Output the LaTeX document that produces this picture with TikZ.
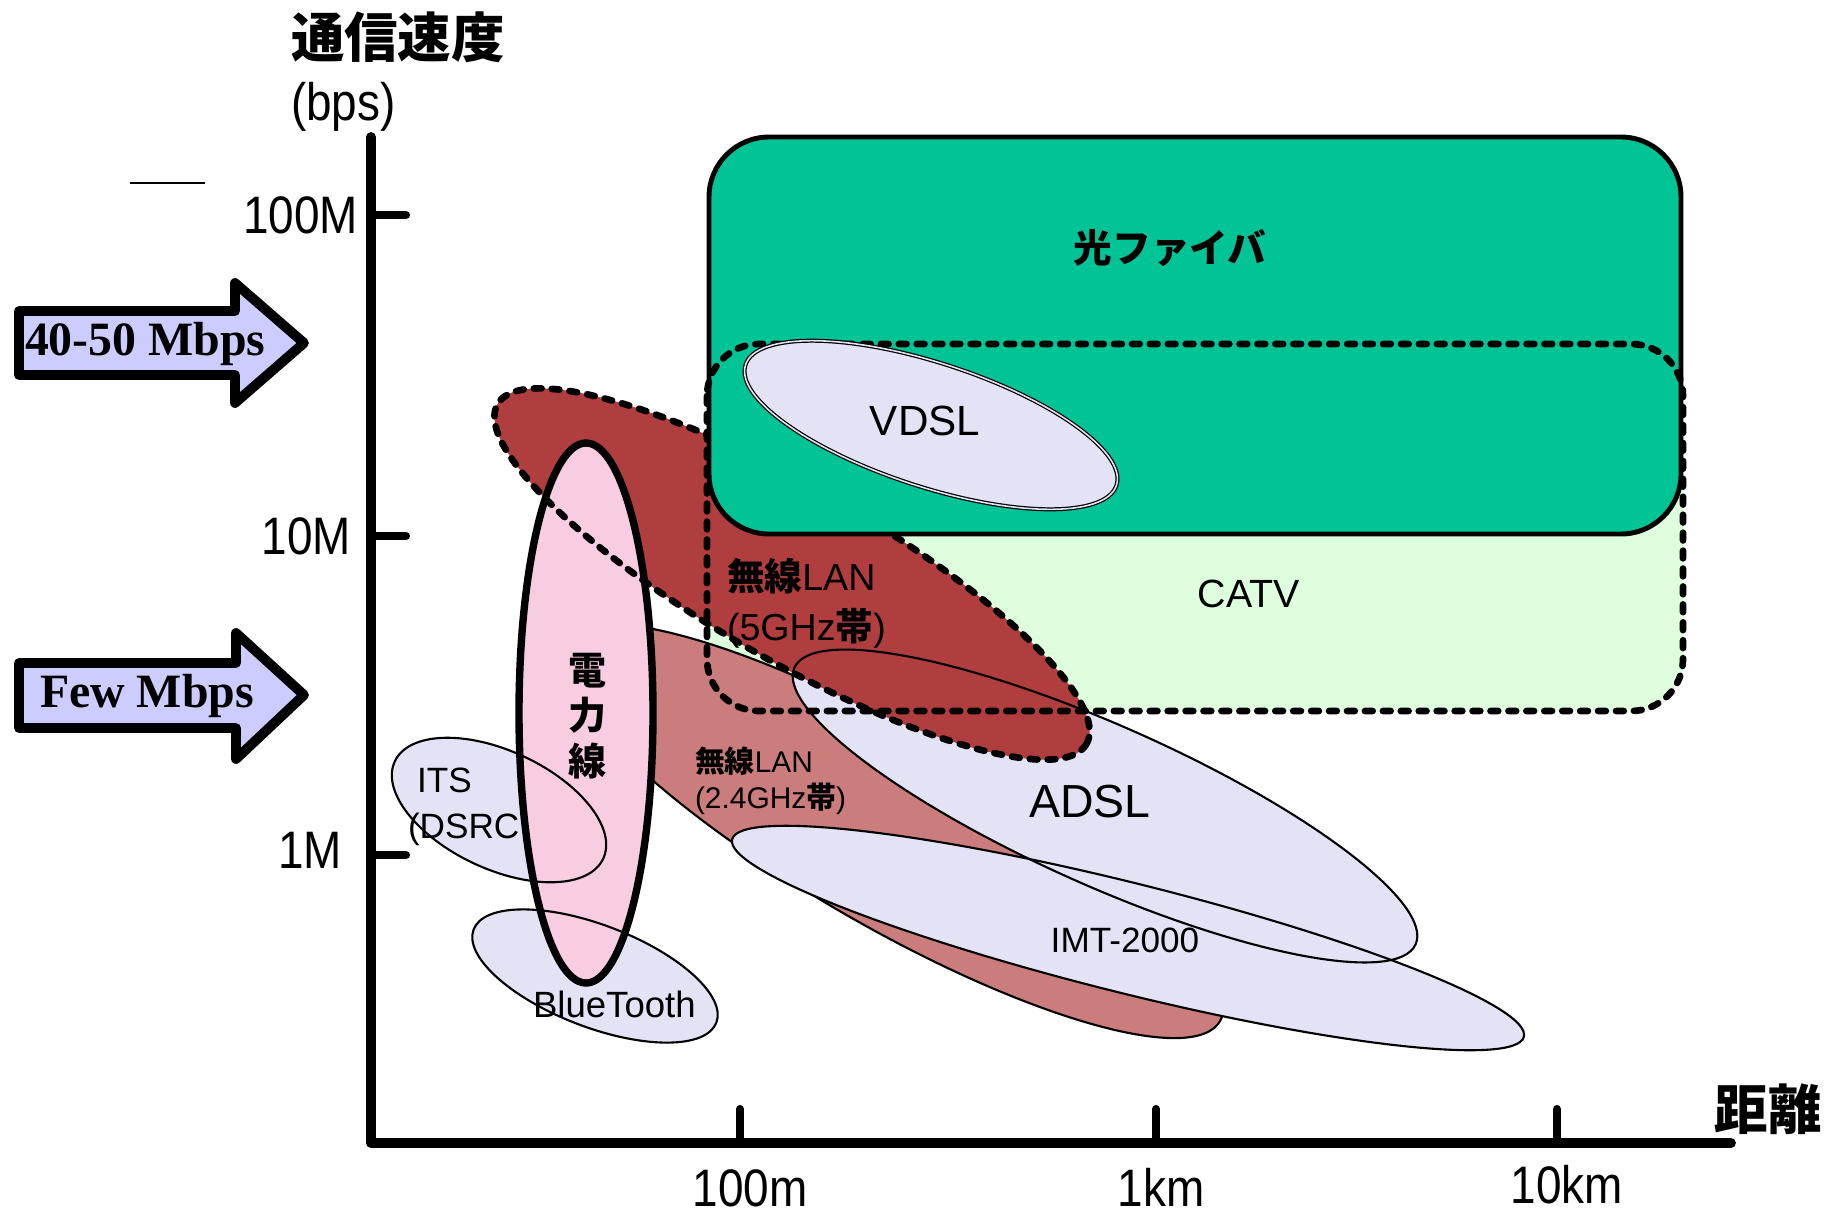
\documentclass[tikz,border=0pt]{standalone}
\usepackage{fontspec}
\setmainfont{Liberation Sans}
\newfontfamily\axf{Liberation Sans}[FakeStretch=0.87]
\newfontfamily\jpf{Noto Sans CJK JP}
\newfontfamily\serf{Liberation Serif}
\newcommand\jb{\jpf\bfseries}
\newcommand\fsz[1]{\fontsize{#1}{#1}\selectfont}
\definecolor{fib}{RGB}{0,196,150}
\definecolor{catv}{RGB}{222,255,222}
\definecolor{wlfive}{RGB}{176,62,62}
\definecolor{wltwo}{RGB}{203,124,124}
\definecolor{lav}{RGB}{227,227,245}
\definecolor{pinkf}{RGB}{249,205,225}
\definecolor{arrowf}{RGB}{204,204,255}
\tikzset{
  axisline/.style={line width=2.8pt, line cap=round, line join=round},
  tickline/.style={line width=2.3pt, line cap=round},
  thinout/.style={draw=black, line width=0.6pt},
  dashout/.style={draw=black, line width=1.9pt, line cap=round, dash pattern=on 2.2pt off 2.9pt},
  blockarrow/.style={draw=black, fill=arrowf, line width=2.8pt, line join=round},
  axlbl/.style={font=\axf\fsz{15}},
  geoadsl/.style={rotate around={-24:(1105,806)}},
  geoimt/.style={rotate around={-14:(1128,938)}},
  geotwo/.style={rotate around={-30:(891,831)}},
  geofive/.style={rotate around={-30:(792,574)}},
  geoits/.style={rotate around={-25:(499,810)}},
  geobt/.style={rotate around={-21:(595,976)}},
  geovdsl/.style={rotate around={-18:(931,425)}},
}
\begin{document}
\begin{tikzpicture}[x=0.01cm, y=-0.01cm, every node/.style={inner sep=0pt, outer sep=0pt}]
\useasboundingbox (0,0) rectangle (1834,1215);

% short line top left
\coordinate (sla) at (130,183);
\coordinate (slb) at (205,183);
\draw[line width=0.5pt] (sla) -- (slb);

% axes
\coordinate (ytop) at (371,137);
\coordinate (orig) at (371,1143);
\coordinate (xend) at (1731,1143);
\draw[axisline] (ytop) -- (orig) -- (xend);
\foreach \yy in {215,536,855} \draw[tickline] (371,\yy) -- (406,\yy);
\foreach \xx in {740,1156,1557} \draw[tickline] (\xx,1109) -- (\xx,1143);

\node[axlbl, anchor=base east] (l100M) at (358,233) {100M};
\node[axlbl, anchor=base east] (l10M) at (351,554) {10M};
\node[axlbl, anchor=base east] (l1M) at (342,868) {1M};
\node[axlbl, anchor=base] (l100m) at (750,1206) {100m};
\node[axlbl, anchor=base] (l1km) at (1161,1206) {1km};
\node[axlbl, anchor=base] (l10km) at (1567,1203) {10km};
\node[anchor=west, font=\jb\fsz{15.2}] (title) at (291,37) {通信速度};
\node[axlbl, anchor=base west] (bps) at (291,120) {(bps)};
\node[font=\jb\fsz{15.2}] (dist) at (1768,1109) {距離};

% block arrows
\draw[blockarrow] (19,311) -- (235,311) -- (235,283) -- (304,343) -- (235,403) -- (235,375) -- (19,375) -- cycle;
\node[anchor=base west, font=\serf\bfseries\fsz{13.6}] (arrA) at (25,355) {40-50 Mbps};
\draw[blockarrow] (19,663) -- (236,663) -- (236,633) -- (304,695) -- (236,759) -- (236,728) -- (19,728) -- cycle;
\node[anchor=base west, font=\serf\bfseries\fsz{13.6}] (arrB) at (40,707) {Few Mbps};

% CATV fill
\fill[catv, rounded corners=0.52cm] (707,344) rectangle (1683,711);

% 2.4GHz wireless LAN
\path[geotwo, fill=wltwo, thinout] (891,831) ellipse [x radius=380, y radius=95];

% ADSL and IMT fills
\path[geoadsl, fill=lav] (1105,806) ellipse [x radius=340, y radius=80];
\path[geoimt, fill=lav] (1128,938) ellipse [x radius=408, y radius=55];

% 5GHz fill
\path[geofive, fill=wlfive] (792,574) ellipse [x radius=340, y radius=86];

% ITS, BlueTooth fills
\path[geoits, fill=lav] (499,810) ellipse [x radius=115, y radius=59];
\path[geobt, fill=lav] (595,976) ellipse [x radius=130, y radius=51];
\node[anchor=base west, font=\fsz{10}] (its1) at (417,792) {ITS};
\node[anchor=base west, font=\fsz{10}] (its2) at (408,838) {(DSRC};

% power line fill
\path[fill=pinkf] (586,713) ellipse [x radius=67, y radius=270];

% thin outlines
\path[geoits, thinout] (499,810) ellipse [x radius=115, y radius=59];
\path[geobt, thinout] (595,976) ellipse [x radius=130, y radius=51];
\path[geoadsl, thinout] (1105,806) ellipse [x radius=340, y radius=80];
\path[geoimt, thinout] (1128,938) ellipse [x radius=408, y radius=55];

% 5GHz dashed outline
\path[geofive, dashout] (792,574) ellipse [x radius=340, y radius=86];

% power line outline
\draw[line width=2.1pt] (586,713) ellipse [x radius=67, y radius=270];

% optical fibre box
\draw[fill=fib, line width=1.4pt, rounded corners=0.6cm] (709,137) rectangle (1681,534);

% CATV dashed outline
\draw[dashout, rounded corners=0.52cm] (707,344) rectangle (1683,711);

% VDSL
\path[geovdsl, fill=lav, draw=black, double=lav, double distance=0.45pt, line width=0.35pt] (931,425) ellipse [x radius=195, y radius=62];

% labels
\node[font=\jb\fsz{11}] (fibt) at (1170,248) {光ファイバ};
\node[anchor=base, font=\fsz{12}] (vdslt) at (925,435) {VDSL};
\node[anchor=base, font=\fsz{11.2}] (catvt) at (1249,607) {CATV};
\node[anchor=base west, font=\fsz{10.7}] (w5a) at (727,590) {{\jb 無線}LAN};
\node[anchor=base west, font=\fsz{10.7}] (w5b) at (727,640) {(5GHz{\jb 帯})};
\node[anchor=base west, font=\fsz{8.5}] (w2a) at (695,772) {{\jb 無線}LAN};
\node[anchor=base west, font=\fsz{8.5}] (w2b) at (695,808) {(2.4GHz{\jb 帯})};
\node[anchor=base, font=\fsz{13.2}] (adslt) at (1090,817) {ADSL};
\node[anchor=base, font=\fsz{10}] (imtt) at (1125,952) {IMT-2000};
\node[align=center, font=\jb\fontsize{10.8}{13}\selectfont] (pwr) at (587,716) {電\\力\\線};
\node[anchor=base west, font=\fsz{10.4}] (btt) at (533,1017) {BlueTooth};
\end{tikzpicture}
\end{document}
